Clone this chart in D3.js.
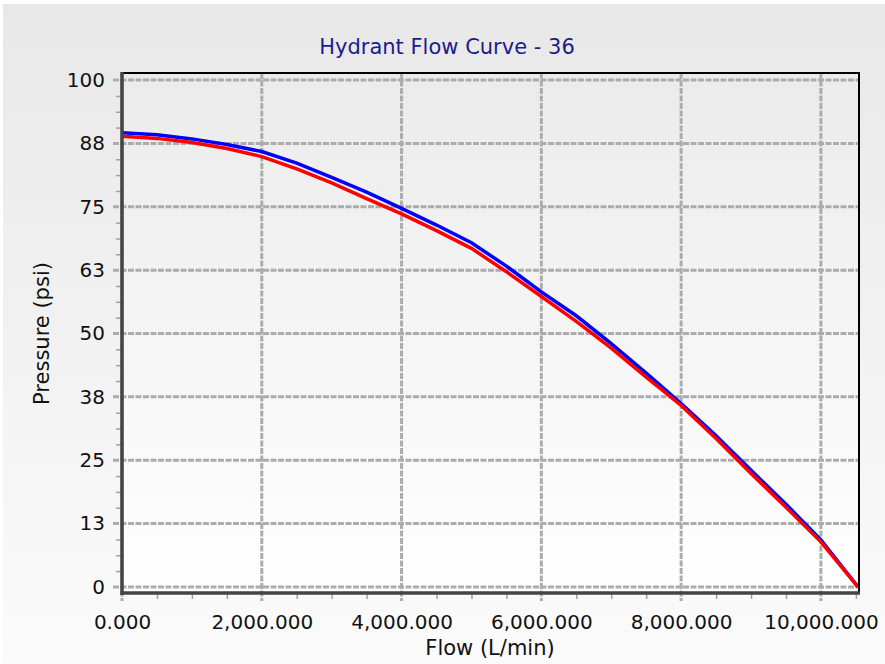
<!DOCTYPE html>
<html>
<head>
<meta charset="utf-8">
<script src="https://cdn.jsdelivr.net/npm/d3@7"></script>
<style>
  body { margin: 0; background: #fff; }
  svg { display: block; font-family: "DejaVu Sans", Verdana, sans-serif; }
</style>
</head>
<body>
<svg></svg>
<script>
  // flow values (L/min) shared by both curves
  var flows = [0, 500, 1000, 1500, 2000, 2500, 3000, 3500, 4000, 4500, 5000,
    5500, 6000, 6500, 7000, 7500, 8000, 8500, 9000, 9500, 10000, 10530]
  // pressure (psi), blue curve
  var bluePressure = [89.6, 89.2, 88.4, 87.3, 85.9, 83.6, 80.8, 77.9, 74.7, 71.4, 67.9,
    63.3, 58.2, 53.5, 48.0, 42.2, 36.2, 29.8, 23.0, 16.3, 9.3, 0]
  // pressure (psi), red curve
  var redPressure = [88.9, 88.5, 87.7, 86.5, 84.9, 82.5, 79.7, 76.6, 73.6, 70.3, 66.8,
    62.2, 57.3, 52.4, 47.1, 41.4, 35.8, 29.3, 22.4, 15.7, 8.9, 0]
  var xTicks = [0, 2000, 4000, 6000, 8000, 10000]
  var yTicks = [0, 12.5, 25, 37.5, 50, 62.5, 75, 87.5, 100]
  var title = 'Hydrant Flow Curve - 36'

  var width = 885
  var height = 664
  var svg = d3.select('svg').attr('width', width).attr('height', height)
  var fontFamily = '"DejaVu Sans", Verdana, sans-serif'

  var defs = svg.append('defs')
  var outerGrad = defs.append('linearGradient').attr('id', 'outerBg')
    .attr('x1', 0).attr('y1', 0).attr('x2', 0).attr('y2', 1)
  outerGrad.append('stop').attr('offset', '0%').attr('stop-color', '#e8e8e8')
  outerGrad.append('stop').attr('offset', '100%').attr('stop-color', '#fbfbfb')
  var plotGrad = defs.append('linearGradient').attr('id', 'plotBg')
    .attr('x1', 0).attr('y1', 0).attr('x2', 0).attr('y2', 1)
  plotGrad.append('stop').attr('offset', '0%').attr('stop-color', '#ebebeb')
  plotGrad.append('stop').attr('offset', '100%').attr('stop-color', '#ffffff')

  svg.append('rect')
    .attr('x', 3).attr('y', 4)
    .attr('width', width - 3).attr('height', height - 4)
    .attr('fill', 'url(#outerBg)')

  // plot box (window.top is reserved, hence the plot* names)
  var plotLeft = 122, plotRight = 859, plotTop = 73, plotBottom = 593
  var x = d3.scaleLinear().domain([0, 10545]).range([plotLeft, plotRight])
  var y = d3.scaleLinear().domain([-1.2, 101.4]).range([plotBottom, plotTop])

  svg.append('rect')
    .attr('x', plotLeft).attr('y', plotTop)
    .attr('width', plotRight - plotLeft).attr('height', plotBottom - plotTop)
    .attr('fill', 'url(#plotBg)')

  // minor ticks
  var xMinor = d3.range(0, 10501, 500).filter(function (d) { return d % 2000 !== 0 })
  var yMinor = d3.range(0, 100.1, 3.125).filter(function (d) { return d % 12.5 !== 0 })
  svg.append('g').attr('transform', 'translate(0,' + plotBottom + ')')
    .call(d3.axisBottom(x).tickValues(xMinor).tickSize(6).tickFormat(''))
    .call(function (g) { g.select('.domain').remove() })
    .selectAll('line').attr('stroke', '#a0a0a0').attr('stroke-width', 1.5)
  svg.append('g').attr('transform', 'translate(' + plotLeft + ',0)')
    .call(d3.axisLeft(y).tickValues(yMinor).tickSize(6).tickFormat(''))
    .call(function (g) { g.select('.domain').remove() })
    .selectAll('line').attr('stroke', '#a0a0a0').attr('stroke-width', 1.5)

  // grid lines, running out past the axes as the major ticks
  var grid = svg.append('g')
  grid.selectAll('line.v').data(xTicks).enter().append('line')
    .attr('x1', function (d) { return x(d) }).attr('x2', function (d) { return x(d) })
    .attr('y1', plotTop).attr('y2', plotBottom + 8)
  grid.selectAll('line.h').data(yTicks).enter().append('line')
    .attr('y1', function (d) { return y(d) }).attr('y2', function (d) { return y(d) })
    .attr('x1', plotLeft - 9).attr('x2', plotRight)
  grid.selectAll('line')
    .attr('stroke', '#acacac').attr('stroke-width', 3)
    .attr('stroke-dasharray', '6,1.5')

  // tick labels
  svg.append('g').attr('transform', 'translate(0,' + plotBottom + ')')
    .call(d3.axisBottom(x).tickValues(xTicks).tickSize(0).tickPadding(22)
      .tickFormat(d3.format(',.3f')))
    .call(function (g) { g.select('.domain').remove() })
    .selectAll('text').attr('font-size', 20).attr('fill', '#111')
    .attr('font-family', fontFamily)
  svg.append('g').attr('transform', 'translate(' + (plotLeft - 17) + ',0)')
    .call(d3.axisLeft(y).tickValues(yTicks).tickSize(0).tickPadding(0)
      .tickFormat(function (d) { return Math.round(d) }))
    .call(function (g) { g.select('.domain').remove() })
    .selectAll('text').attr('font-size', 20).attr('fill', '#111')
    .attr('font-family', fontFamily)

  // curves
  var line = d3.line()
    .x(function (d) { return x(d[0]) })
    .y(function (d) { return y(d[1]) })
  svg.append('path')
    .datum(d3.zip(flows, bluePressure))
    .attr('d', line).attr('fill', 'none')
    .attr('stroke', '#0000ff').attr('stroke-width', 3.5)
  svg.append('path')
    .datum(d3.zip(flows, redPressure))
    .attr('d', line).attr('fill', 'none')
    .attr('stroke', '#ff0000').attr('stroke-width', 3.5)

  // frame: black top/right, dark grey axes
  svg.append('line').attr('x1', plotLeft).attr('x2', plotRight + 1).attr('y1', plotTop).attr('y2', plotTop)
    .attr('stroke', '#000').attr('stroke-width', 2)
  svg.append('line').attr('x1', plotRight).attr('x2', plotRight).attr('y1', plotTop).attr('y2', plotBottom)
    .attr('stroke', '#000').attr('stroke-width', 2)
  svg.append('line').attr('x1', plotLeft).attr('x2', plotLeft).attr('y1', plotTop - 1).attr('y2', plotBottom + 2)
    .attr('stroke', '#444').attr('stroke-width', 3.5)
  svg.append('line').attr('x1', plotLeft - 1.5).attr('x2', plotRight + 1).attr('y1', plotBottom).attr('y2', plotBottom)
    .attr('stroke', '#444').attr('stroke-width', 3.5)

  // titles
  svg.append('text')
    .attr('x', 447).attr('y', 54)
    .attr('text-anchor', 'middle')
    .attr('font-size', 21).attr('fill', '#1c1c8c')
    .text(title)
  svg.append('text')
    .attr('x', 490).attr('y', 655)
    .attr('text-anchor', 'middle')
    .attr('font-size', 21).attr('fill', '#111')
    .text('Flow (L/min)')
  svg.append('text')
    .attr('transform', 'translate(49,' + y(50) + ') rotate(-90)')
    .attr('text-anchor', 'middle')
    .attr('font-size', 21).attr('fill', '#111')
    .text('Pressure (psi)')
</script>
</body>
</html>
